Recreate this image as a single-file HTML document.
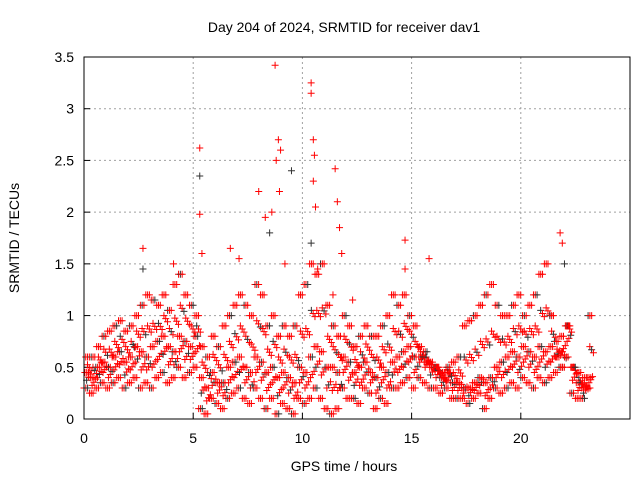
<!DOCTYPE html>
<html><head><meta charset="utf-8"><style>
body{margin:0;background:#fff;}
svg{display:block;font-family:"Liberation Sans",sans-serif;}
</style></head><body>
<svg id="chart" width="640" height="480">
<rect width="640" height="480" fill="#fff"/>
<text x="344" y="32" font-size="14" text-anchor="middle">Day 204 of 2024, SRMTID for receiver dav1</text>
<text x="344" y="471" font-size="14" text-anchor="middle">GPS time / hours</text>
<text transform="translate(19,238) rotate(-90)" font-size="14" text-anchor="middle">SRMTID / TECUs</text>
<g id="grid"></g><g id="ticks"></g><g id="marks"></g>
<rect x="84" y="57" width="546" height="362" fill="none" stroke="#000" stroke-width="1"/>
</svg>
<script>
const xTicks=[0,5,10,15,20];
const yTicks=[0,0.5,1,1.5,2,2.5,3,3.5];
const yTickLabels=["0","0.5","1","1.5","2","2.5","3","3.5"];
const times=[];for(let i=0;i<=92;i++)times.push(i*0.25);
const lo=[0.3,0.25,0.3,0.35,0.3,0.35,0.4,0.3,0.35,0.4,0.3,0.35,0.3,0.4,0.45,0.35,0.4,0.5,0.4,0.45,0.5,0.1,0.05,0.2,0.15,0.1,0.2,0.25,0.3,0.2,0.15,0.3,0.2,0.1,0.2,0.05,0.15,0.1,0.05,0.2,0.15,0.2,0.3,0.2,0.1,0.05,0.1,0.3,0.2,0.2,0.15,0.3,0.25,0.1,0.2,0.15,0.3,0.3,0.35,0.4,0.3,0.4,0.35,0.3,0.3,0.25,0.3,0.2,0.2,0.2,0.15,0.2,0.25,0.1,0.2,0.3,0.25,0.3,0.35,0.3,0.4,0.35,0.3,0.4,0.35,0.4,0.45,0.5,0.6,0.25,0.2,0.2,0.3];
const mid=[0.45,0.4,0.5,0.55,0.5,0.6,0.65,0.55,0.6,0.7,0.65,0.6,0.7,0.75,0.8,0.7,0.65,0.8,0.75,0.7,0.8,0.4,0.3,0.45,0.35,0.35,0.5,0.55,0.6,0.5,0.45,0.6,0.55,0.45,0.5,0.4,0.45,0.4,0.35,0.5,0.45,0.6,0.7,0.65,0.5,0.5,0.45,0.6,0.55,0.45,0.5,0.55,0.45,0.4,0.5,0.45,0.55,0.6,0.65,0.7,0.6,0.7,0.65,0.55,0.5,0.4,0.45,0.35,0.35,0.3,0.3,0.35,0.4,0.35,0.4,0.5,0.55,0.6,0.65,0.6,0.7,0.65,0.6,0.7,0.65,0.7,0.75,0.8,0.9,0.5,0.35,0.3,0.4];
const hi=[0.6,0.6,0.7,0.8,0.85,0.9,0.95,0.85,0.9,1.0,1.1,1.2,1.15,1.1,1.2,1.05,1.3,1.4,1.2,1.1,1.0,0.7,0.6,0.8,0.7,0.9,1.0,1.1,1.2,1.1,1.0,1.3,1.2,0.9,1.0,0.8,0.9,0.8,0.9,1.2,1.3,1.5,1.4,1.5,1.1,0.9,0.8,1.0,0.9,0.7,0.8,0.9,0.8,0.8,0.9,1.0,1.2,1.1,1.2,1.0,0.9,0.6,0.55,0.5,0.5,0.45,0.5,0.55,0.6,0.9,0.95,1.0,1.1,1.2,1.3,1.1,1.0,1.0,1.1,1.2,1.0,1.1,1.2,1.4,1.5,1.0,0.6,0.5,0.9,0.5,0.45,0.4,1.0];
const spikeX=[5.3,5.3,5.3,5.4,6.7,7.1,8,8.3,8.5,8.6,8.75,8.8,8.9,8.95,9.2,9.5,10.4,10.4,10.5,10.55,10.5,10.6,10.4,10.7,11.5,11.6,11.7,11.8,2.7,2.7,4.1,14.7,14.7,15.8,21.8,21.9,22.0,12.3,9,11.4];
const spikeY=[2.62,2.35,1.98,1.6,1.65,1.55,2.2,1.95,1.8,2.0,3.42,2.5,2.7,2.2,1.5,2.4,3.25,3.15,2.7,2.55,2.3,2.05,1.7,1.45,2.42,2.1,1.85,1.6,1.65,1.45,1.5,1.73,1.45,1.55,1.8,1.7,1.5,1.15,2.6,1.2];
const X0=84,X1=630,Y0=419,Y1=57;
const xs=v=>X0+v/25*(X1-X0);
const ys=v=>Y0-v/3.5*(Y0-Y1);
const NS="http://www.w3.org/2000/svg";
const grid=document.getElementById('grid'),ticks=document.getElementById('ticks'),marks=document.getElementById('marks');
function mk(t,a,p){const e=document.createElementNS(NS,t);for(const k in a)e.setAttribute(k,a[k]);p.appendChild(e);return e;}
xTicks.forEach(v=>{const x=xs(v);
 if(v>0){const g=mk('line',{x1:x,x2:x,y1:Y0,y2:Y1,stroke:'#a0a0a0','stroke-dasharray':'2,3'},grid);
 
 }
 const t=mk('text',{x:x,y:Y0+24,'font-size':14,'text-anchor':'middle'},ticks);t.textContent=v;
 
 
 mk('line',{x1:x,x2:x,y1:Y0,y2:Y0-6,stroke:'#000'},ticks);});
yTicks.forEach((v,i)=>{const y=ys(v);
 if(v>0&&v<3.5){const g=mk('line',{x1:X0,x2:X1,y1:y,y2:y,stroke:'#a0a0a0','stroke-dasharray':'2,3'},grid);
 
 }
 const t=mk('text',{x:X0-10,y:y+5,'font-size':14,'text-anchor':'end'},ticks);t.textContent=yTickLabels[i];
 
 
 mk('line',{x1:X0,x2:X0+6,y1:y,y2:y,stroke:'#000'},ticks);});
let n=0;
function plus(tv,vv){const x=xs(tv),y=ys(vv);const c=(n++%7===3)?'#333':'#f00';
 const p=mk('path',{d:`M${x-3.5},${y}h7M${x},${y-3.5}v7`,stroke:c,'stroke-width':1,fill:'none'},marks);
 
 }
const fr=[0,0.33,0.66];
times.forEach((t,i)=>{
 if(t>23)return;
 fr.forEach((f,j)=>{const tt=t+f*0.25;
  plus(tt,lo[i]); plus(tt+0.04,mid[i]); plus(tt+0.08,hi[i]);
  plus(tt+0.12,(lo[i]+mid[i])/2+0.03*j); plus(tt+0.16,(mid[i]+hi[i])/2-0.03*j);});
});
spikeX.forEach((t,i)=>plus(t,spikeY[i]));
</script>
</body></html>
